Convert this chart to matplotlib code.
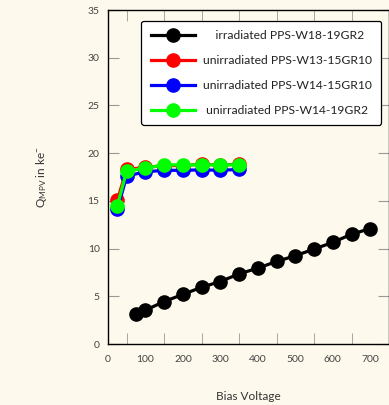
import matplotlib
matplotlib.use("Agg")
import matplotlib.pyplot as plt
from matplotlib.ticker import MultipleLocator

# donnees
v_irr = [75, 100, 150, 200, 250, 300, 350, 400, 450, 500, 550, 600, 650, 700]
q_irr = [3.15, 3.55, 4.45, 5.2, 5.95, 6.55, 7.35, 7.95, 8.65, 9.25, 9.95, 10.65, 11.5, 12.1]

v_unirr = [25, 50, 100, 150, 200, 250, 300, 350]
q_w13_15 = [15.1, 18.3, 18.5, 18.7, 18.7, 18.85, 18.75, 18.85]
q_w14_15 = [14.1, 17.6, 18.05, 18.2, 18.2, 18.25, 18.2, 18.3]
q_w14_19 = [14.5, 18.15, 18.4, 18.8, 18.75, 18.8, 18.75, 18.8]

# espaces en tete pour centrer les libelles comme sur l'original
labels = ["    irradiated PPS-W18-19GR2",
          "unirradiated PPS-W13-15GR10",
          "unirradiated PPS-W14-15GR10",
          " unirradiated PPS-W14-19GR2"]

bg = "#fdf9ec"
plt.rcParams['font.family'] = ['Lato', 'DejaVu Sans']
plt.rcParams['mathtext.fontset'] = 'custom'
plt.rcParams['mathtext.rm'] = 'Lato'

fig = plt.figure(figsize=(3.89, 4.05), dpi=100, facecolor=bg)
ax = fig.add_axes([0.2776, 0.1506, 0.7224, 0.8247], facecolor=bg)

style = dict(marker='o', markersize=9.5, linewidth=2.3)
ax.plot(v_irr, q_irr, color='black', label=labels[0], **style)
ax.plot(v_unirr, q_w13_15, color='red', label=labels[1], **style)
ax.plot(v_unirr, q_w14_15, color='blue', label=labels[2], **style)
ax.plot(v_unirr, q_w14_19, color='#00ff00', label=labels[3], **style)

ax.set_xlim(0, 750)
ax.set_ylim(0, 35)
ax.xaxis.set_major_locator(MultipleLocator(100))
ax.xaxis.set_minor_locator(MultipleLocator(50))
ax.yaxis.set_major_locator(MultipleLocator(5))
ax.tick_params(axis='both', which='both', direction='in', color='#999999',
               top=True, right=True, labelsize=7.5, labelcolor='#444444', pad=6)
ax.tick_params(axis='x', which='major', length=0, pad=8)
ax.tick_params(axis='x', which='minor', length=8)
ax.tick_params(axis='y', which='major', length=8)
for s in ax.spines.values():
    s.set_linewidth(1.0)

ax.set_xlabel("Bias Voltage", fontsize=8.5, color='#333333', labelpad=19)
ax.set_ylabel(r"$\mathrm{Q_{MPV}}$ in ke$^{-}$", fontsize=8.5, color='#333333', labelpad=28)

leg = ax.legend(loc='upper right', bbox_to_anchor=(0.972, 0.967), borderaxespad=0,
                fontsize=8.7, handlelength=3.7, handletextpad=0.65, labelspacing=1.15,
                borderpad=0.75, frameon=True, fancybox=True, edgecolor='black', framealpha=1)
leg.get_frame().set_linewidth(0.9)
for t in leg.get_texts():
    t.set_color('#222222')

fig.savefig("out.png", dpi=100, facecolor=bg)
